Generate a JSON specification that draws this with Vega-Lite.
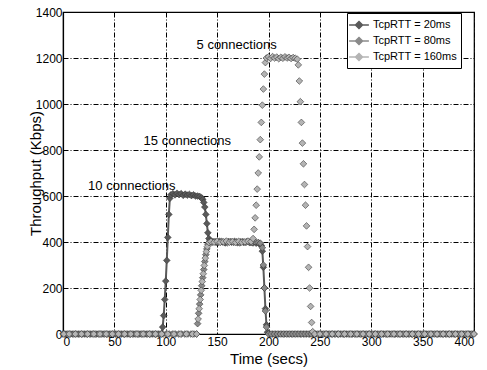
{
  "$schema": "https://vega.github.io/schema/vega-lite/v6.json",
  "width": 411,
  "height": 322,
  "autosize": {"type": "none"},
  "padding": {"left": 63, "top": 12, "right": 13, "bottom": 36},
  "background": "white",
  "config": {
    "font": "Liberation Sans",
    "view": {"stroke": "#000", "strokeWidth": 1.2},
    "axis": {
      "grid": true, "gridColor": "#000", "gridDash": [5, 2, 1, 2], "gridWidth": 1, "gridOpacity": 1,
      "domainColor": "#000", "domainWidth": 1.2, "ticks": false, "format": "d",
      "labelColor": "#000", "titleColor": "#000", "labelFontSize": 12, "titleFontSize": 15,
      "titleFontWeight": "normal", "labelFont": "Liberation Sans", "titleFont": "Liberation Sans"
    },
    "legend": {
      "title": null, "orient": "none", "legendX": 284, "legendY": 1, "direction": "vertical",
      "strokeColor": "#000", "fillColor": "#fff", "padding": 4, "labelFontSize": 11, "labelColor": "#000",
      "symbolType": "M-1.4,0H1.4M0,-0.5L0.5,0L0,0.5L-0.5,0Z", "symbolSize": 200, "symbolStrokeWidth": 1.5,
      "rowPadding": 1, "labelOffset": 6
    }
  },
  "datasets": {
    "d": [
      {"series":"TcpRTT = 20ms","time":0,"kbps":0},{"series":"TcpRTT = 20ms","time":3,"kbps":0},{"series":"TcpRTT = 20ms","time":6,"kbps":0},{"series":"TcpRTT = 20ms","time":9,"kbps":0},{"series":"TcpRTT = 20ms","time":12,"kbps":0},{"series":"TcpRTT = 20ms","time":15,"kbps":0},{"series":"TcpRTT = 20ms","time":18,"kbps":0},{"series":"TcpRTT = 20ms","time":21,"kbps":0},{"series":"TcpRTT = 20ms","time":24,"kbps":0},{"series":"TcpRTT = 20ms","time":27,"kbps":0},{"series":"TcpRTT = 20ms","time":30,"kbps":0},{"series":"TcpRTT = 20ms","time":33,"kbps":0},{"series":"TcpRTT = 20ms","time":36,"kbps":0},{"series":"TcpRTT = 20ms","time":39,"kbps":0},{"series":"TcpRTT = 20ms","time":42,"kbps":0},{"series":"TcpRTT = 20ms","time":45,"kbps":0},{"series":"TcpRTT = 20ms","time":48,"kbps":0},{"series":"TcpRTT = 20ms","time":51,"kbps":0},{"series":"TcpRTT = 20ms","time":54,"kbps":0},{"series":"TcpRTT = 20ms","time":57,"kbps":0},{"series":"TcpRTT = 20ms","time":60,"kbps":0},{"series":"TcpRTT = 20ms","time":63,"kbps":0},{"series":"TcpRTT = 20ms","time":66,"kbps":0},{"series":"TcpRTT = 20ms","time":69,"kbps":0},{"series":"TcpRTT = 20ms","time":72,"kbps":0},{"series":"TcpRTT = 20ms","time":75,"kbps":0},{"series":"TcpRTT = 20ms","time":78,"kbps":0},{"series":"TcpRTT = 20ms","time":81,"kbps":0},{"series":"TcpRTT = 20ms","time":84,"kbps":0},{"series":"TcpRTT = 20ms","time":87,"kbps":0},{"series":"TcpRTT = 20ms","time":90,"kbps":0},{"series":"TcpRTT = 20ms","time":93,"kbps":0},{"series":"TcpRTT = 20ms","time":96,"kbps":0},
      {"series":"TcpRTT = 20ms","time":97,"kbps":30},{"series":"TcpRTT = 20ms","time":98,"kbps":80},{"series":"TcpRTT = 20ms","time":99,"kbps":150},{"series":"TcpRTT = 20ms","time":100,"kbps":230},{"series":"TcpRTT = 20ms","time":101,"kbps":320},{"series":"TcpRTT = 20ms","time":102,"kbps":420},{"series":"TcpRTT = 20ms","time":103,"kbps":520},{"series":"TcpRTT = 20ms","time":104,"kbps":590},{"series":"TcpRTT = 20ms","time":105,"kbps":605},
      {"series":"TcpRTT = 20ms","time":107,"kbps":610},{"series":"TcpRTT = 20ms","time":109,"kbps":605},{"series":"TcpRTT = 20ms","time":111,"kbps":612},{"series":"TcpRTT = 20ms","time":113,"kbps":606},{"series":"TcpRTT = 20ms","time":115,"kbps":610},{"series":"TcpRTT = 20ms","time":117,"kbps":603},{"series":"TcpRTT = 20ms","time":119,"kbps":608},{"series":"TcpRTT = 20ms","time":121,"kbps":604},{"series":"TcpRTT = 20ms","time":123,"kbps":607},{"series":"TcpRTT = 20ms","time":125,"kbps":602},{"series":"TcpRTT = 20ms","time":127,"kbps":605},{"series":"TcpRTT = 20ms","time":129,"kbps":600},{"series":"TcpRTT = 20ms","time":131,"kbps":600},{"series":"TcpRTT = 20ms","time":133,"kbps":598},
      {"series":"TcpRTT = 20ms","time":135,"kbps":592},{"series":"TcpRTT = 20ms","time":136,"kbps":585},{"series":"TcpRTT = 20ms","time":137,"kbps":572},{"series":"TcpRTT = 20ms","time":138,"kbps":552},{"series":"TcpRTT = 20ms","time":139,"kbps":520},{"series":"TcpRTT = 20ms","time":140,"kbps":480},{"series":"TcpRTT = 20ms","time":141,"kbps":440},{"series":"TcpRTT = 20ms","time":142,"kbps":415},{"series":"TcpRTT = 20ms","time":143,"kbps":405},
      {"series":"TcpRTT = 20ms","time":146,"kbps":402},{"series":"TcpRTT = 20ms","time":149,"kbps":398},{"series":"TcpRTT = 20ms","time":152,"kbps":403},{"series":"TcpRTT = 20ms","time":155,"kbps":400},{"series":"TcpRTT = 20ms","time":158,"kbps":396},{"series":"TcpRTT = 20ms","time":161,"kbps":402},{"series":"TcpRTT = 20ms","time":164,"kbps":399},{"series":"TcpRTT = 20ms","time":167,"kbps":403},{"series":"TcpRTT = 20ms","time":170,"kbps":397},{"series":"TcpRTT = 20ms","time":173,"kbps":401},{"series":"TcpRTT = 20ms","time":176,"kbps":398},{"series":"TcpRTT = 20ms","time":179,"kbps":402},{"series":"TcpRTT = 20ms","time":182,"kbps":397},{"series":"TcpRTT = 20ms","time":185,"kbps":396},{"series":"TcpRTT = 20ms","time":188,"kbps":395},{"series":"TcpRTT = 20ms","time":191,"kbps":393},{"series":"TcpRTT = 20ms","time":193,"kbps":385},
      {"series":"TcpRTT = 20ms","time":194,"kbps":360},{"series":"TcpRTT = 20ms","time":195,"kbps":290},{"series":"TcpRTT = 20ms","time":196,"kbps":200},{"series":"TcpRTT = 20ms","time":197,"kbps":110},{"series":"TcpRTT = 20ms","time":198,"kbps":40},{"series":"TcpRTT = 20ms","time":199,"kbps":8},
      {"series":"TcpRTT = 20ms","time":201,"kbps":0},{"series":"TcpRTT = 20ms","time":204,"kbps":0},{"series":"TcpRTT = 20ms","time":207,"kbps":0},{"series":"TcpRTT = 20ms","time":210,"kbps":0},{"series":"TcpRTT = 20ms","time":213,"kbps":0},{"series":"TcpRTT = 20ms","time":216,"kbps":0},{"series":"TcpRTT = 20ms","time":219,"kbps":0},{"series":"TcpRTT = 20ms","time":222,"kbps":0},{"series":"TcpRTT = 20ms","time":225,"kbps":0},{"series":"TcpRTT = 20ms","time":228,"kbps":0},{"series":"TcpRTT = 20ms","time":231,"kbps":0},{"series":"TcpRTT = 20ms","time":234,"kbps":0},{"series":"TcpRTT = 20ms","time":237,"kbps":0},{"series":"TcpRTT = 20ms","time":240,"kbps":0},{"series":"TcpRTT = 20ms","time":243,"kbps":0},{"series":"TcpRTT = 20ms","time":246,"kbps":0},{"series":"TcpRTT = 20ms","time":249,"kbps":0},{"series":"TcpRTT = 20ms","time":252,"kbps":0},{"series":"TcpRTT = 20ms","time":255,"kbps":0},{"series":"TcpRTT = 20ms","time":258,"kbps":0},{"series":"TcpRTT = 20ms","time":261,"kbps":0},{"series":"TcpRTT = 20ms","time":264,"kbps":0},{"series":"TcpRTT = 20ms","time":267,"kbps":0},{"series":"TcpRTT = 20ms","time":270,"kbps":0},{"series":"TcpRTT = 20ms","time":273,"kbps":0},{"series":"TcpRTT = 20ms","time":276,"kbps":0},{"series":"TcpRTT = 20ms","time":279,"kbps":0},{"series":"TcpRTT = 20ms","time":282,"kbps":0},{"series":"TcpRTT = 20ms","time":285,"kbps":0},{"series":"TcpRTT = 20ms","time":288,"kbps":0},{"series":"TcpRTT = 20ms","time":291,"kbps":0},{"series":"TcpRTT = 20ms","time":294,"kbps":0},{"series":"TcpRTT = 20ms","time":297,"kbps":0},{"series":"TcpRTT = 20ms","time":300,"kbps":0},{"series":"TcpRTT = 20ms","time":303,"kbps":0},{"series":"TcpRTT = 20ms","time":306,"kbps":0},{"series":"TcpRTT = 20ms","time":309,"kbps":0},{"series":"TcpRTT = 20ms","time":312,"kbps":0},{"series":"TcpRTT = 20ms","time":315,"kbps":0},{"series":"TcpRTT = 20ms","time":318,"kbps":0},{"series":"TcpRTT = 20ms","time":321,"kbps":0},{"series":"TcpRTT = 20ms","time":324,"kbps":0},{"series":"TcpRTT = 20ms","time":327,"kbps":0},{"series":"TcpRTT = 20ms","time":330,"kbps":0},{"series":"TcpRTT = 20ms","time":333,"kbps":0},{"series":"TcpRTT = 20ms","time":336,"kbps":0},{"series":"TcpRTT = 20ms","time":339,"kbps":0},{"series":"TcpRTT = 20ms","time":342,"kbps":0},{"series":"TcpRTT = 20ms","time":345,"kbps":0},{"series":"TcpRTT = 20ms","time":348,"kbps":0},{"series":"TcpRTT = 20ms","time":351,"kbps":0},{"series":"TcpRTT = 20ms","time":354,"kbps":0},{"series":"TcpRTT = 20ms","time":357,"kbps":0},{"series":"TcpRTT = 20ms","time":360,"kbps":0},{"series":"TcpRTT = 20ms","time":363,"kbps":0},{"series":"TcpRTT = 20ms","time":366,"kbps":0},{"series":"TcpRTT = 20ms","time":369,"kbps":0},{"series":"TcpRTT = 20ms","time":372,"kbps":0},{"series":"TcpRTT = 20ms","time":375,"kbps":0},{"series":"TcpRTT = 20ms","time":378,"kbps":0},{"series":"TcpRTT = 20ms","time":381,"kbps":0},{"series":"TcpRTT = 20ms","time":384,"kbps":0},{"series":"TcpRTT = 20ms","time":387,"kbps":0},{"series":"TcpRTT = 20ms","time":390,"kbps":0},{"series":"TcpRTT = 20ms","time":393,"kbps":0},{"series":"TcpRTT = 20ms","time":396,"kbps":0},{"series":"TcpRTT = 20ms","time":399,"kbps":0},

      {"series":"TcpRTT = 80ms","time":1.5,"kbps":0},{"series":"TcpRTT = 80ms","time":4.5,"kbps":0},{"series":"TcpRTT = 80ms","time":7.5,"kbps":0},{"series":"TcpRTT = 80ms","time":10.5,"kbps":0},{"series":"TcpRTT = 80ms","time":13.5,"kbps":0},{"series":"TcpRTT = 80ms","time":16.5,"kbps":0},{"series":"TcpRTT = 80ms","time":19.5,"kbps":0},{"series":"TcpRTT = 80ms","time":22.5,"kbps":0},{"series":"TcpRTT = 80ms","time":25.5,"kbps":0},{"series":"TcpRTT = 80ms","time":28.5,"kbps":0},{"series":"TcpRTT = 80ms","time":31.5,"kbps":0},{"series":"TcpRTT = 80ms","time":34.5,"kbps":0},{"series":"TcpRTT = 80ms","time":37.5,"kbps":0},{"series":"TcpRTT = 80ms","time":40.5,"kbps":0},{"series":"TcpRTT = 80ms","time":43.5,"kbps":0},{"series":"TcpRTT = 80ms","time":46.5,"kbps":0},{"series":"TcpRTT = 80ms","time":49.5,"kbps":0},{"series":"TcpRTT = 80ms","time":52.5,"kbps":0},{"series":"TcpRTT = 80ms","time":55.5,"kbps":0},{"series":"TcpRTT = 80ms","time":58.5,"kbps":0},{"series":"TcpRTT = 80ms","time":61.5,"kbps":0},{"series":"TcpRTT = 80ms","time":64.5,"kbps":0},{"series":"TcpRTT = 80ms","time":67.5,"kbps":0},{"series":"TcpRTT = 80ms","time":70.5,"kbps":0},{"series":"TcpRTT = 80ms","time":73.5,"kbps":0},{"series":"TcpRTT = 80ms","time":76.5,"kbps":0},{"series":"TcpRTT = 80ms","time":79.5,"kbps":0},{"series":"TcpRTT = 80ms","time":82.5,"kbps":0},{"series":"TcpRTT = 80ms","time":85.5,"kbps":0},{"series":"TcpRTT = 80ms","time":88.5,"kbps":0},{"series":"TcpRTT = 80ms","time":91.5,"kbps":0},{"series":"TcpRTT = 80ms","time":94.5,"kbps":0},{"series":"TcpRTT = 80ms","time":97.5,"kbps":0},{"series":"TcpRTT = 80ms","time":100.5,"kbps":0},{"series":"TcpRTT = 80ms","time":103.5,"kbps":0},{"series":"TcpRTT = 80ms","time":106.5,"kbps":0},{"series":"TcpRTT = 80ms","time":109.5,"kbps":0},{"series":"TcpRTT = 80ms","time":112.5,"kbps":0},{"series":"TcpRTT = 80ms","time":115.5,"kbps":0},{"series":"TcpRTT = 80ms","time":118.5,"kbps":0},{"series":"TcpRTT = 80ms","time":121.5,"kbps":0},{"series":"TcpRTT = 80ms","time":124.5,"kbps":0},{"series":"TcpRTT = 80ms","time":127.5,"kbps":0},{"series":"TcpRTT = 80ms","time":130,"kbps":0},
      {"series":"TcpRTT = 80ms","time":131,"kbps":45},{"series":"TcpRTT = 80ms","time":132,"kbps":90},{"series":"TcpRTT = 80ms","time":133,"kbps":130},{"series":"TcpRTT = 80ms","time":134,"kbps":170},{"series":"TcpRTT = 80ms","time":135,"kbps":210},{"series":"TcpRTT = 80ms","time":136,"kbps":245},{"series":"TcpRTT = 80ms","time":137,"kbps":280},{"series":"TcpRTT = 80ms","time":138,"kbps":315},{"series":"TcpRTT = 80ms","time":139,"kbps":345},{"series":"TcpRTT = 80ms","time":140,"kbps":370},{"series":"TcpRTT = 80ms","time":141,"kbps":390},{"series":"TcpRTT = 80ms","time":143,"kbps":400},
      {"series":"TcpRTT = 80ms","time":145,"kbps":398},{"series":"TcpRTT = 80ms","time":148,"kbps":402},{"series":"TcpRTT = 80ms","time":151,"kbps":398},{"series":"TcpRTT = 80ms","time":154,"kbps":403},{"series":"TcpRTT = 80ms","time":157,"kbps":399},{"series":"TcpRTT = 80ms","time":160,"kbps":397},{"series":"TcpRTT = 80ms","time":163,"kbps":402},{"series":"TcpRTT = 80ms","time":166,"kbps":398},{"series":"TcpRTT = 80ms","time":169,"kbps":401},{"series":"TcpRTT = 80ms","time":172,"kbps":396},{"series":"TcpRTT = 80ms","time":175,"kbps":402},{"series":"TcpRTT = 80ms","time":178,"kbps":398},{"series":"TcpRTT = 80ms","time":181,"kbps":400},{"series":"TcpRTT = 80ms","time":184,"kbps":397},{"series":"TcpRTT = 80ms","time":187,"kbps":401},{"series":"TcpRTT = 80ms","time":190,"kbps":398},{"series":"TcpRTT = 80ms","time":192,"kbps":395},
      {"series":"TcpRTT = 80ms","time":194,"kbps":375},{"series":"TcpRTT = 80ms","time":195,"kbps":300},{"series":"TcpRTT = 80ms","time":196,"kbps":200},{"series":"TcpRTT = 80ms","time":197,"kbps":100},{"series":"TcpRTT = 80ms","time":198,"kbps":30},{"series":"TcpRTT = 80ms","time":200,"kbps":0},
      {"series":"TcpRTT = 80ms","time":202.5,"kbps":0},{"series":"TcpRTT = 80ms","time":205.5,"kbps":0},{"series":"TcpRTT = 80ms","time":208.5,"kbps":0},{"series":"TcpRTT = 80ms","time":211.5,"kbps":0},{"series":"TcpRTT = 80ms","time":214.5,"kbps":0},{"series":"TcpRTT = 80ms","time":217.5,"kbps":0},{"series":"TcpRTT = 80ms","time":220.5,"kbps":0},{"series":"TcpRTT = 80ms","time":223.5,"kbps":0},{"series":"TcpRTT = 80ms","time":226.5,"kbps":0},{"series":"TcpRTT = 80ms","time":229.5,"kbps":0},{"series":"TcpRTT = 80ms","time":232.5,"kbps":0},{"series":"TcpRTT = 80ms","time":235.5,"kbps":0},{"series":"TcpRTT = 80ms","time":238.5,"kbps":0},{"series":"TcpRTT = 80ms","time":241.5,"kbps":0},{"series":"TcpRTT = 80ms","time":244.5,"kbps":0},{"series":"TcpRTT = 80ms","time":247.5,"kbps":0},{"series":"TcpRTT = 80ms","time":250.5,"kbps":0},{"series":"TcpRTT = 80ms","time":253.5,"kbps":0},{"series":"TcpRTT = 80ms","time":256.5,"kbps":0},{"series":"TcpRTT = 80ms","time":259.5,"kbps":0},{"series":"TcpRTT = 80ms","time":262.5,"kbps":0},{"series":"TcpRTT = 80ms","time":265.5,"kbps":0},{"series":"TcpRTT = 80ms","time":268.5,"kbps":0},{"series":"TcpRTT = 80ms","time":271.5,"kbps":0},{"series":"TcpRTT = 80ms","time":274.5,"kbps":0},{"series":"TcpRTT = 80ms","time":277.5,"kbps":0},{"series":"TcpRTT = 80ms","time":280.5,"kbps":0},{"series":"TcpRTT = 80ms","time":283.5,"kbps":0},{"series":"TcpRTT = 80ms","time":286.5,"kbps":0},{"series":"TcpRTT = 80ms","time":289.5,"kbps":0},{"series":"TcpRTT = 80ms","time":292.5,"kbps":0},{"series":"TcpRTT = 80ms","time":295.5,"kbps":0},{"series":"TcpRTT = 80ms","time":298.5,"kbps":0},{"series":"TcpRTT = 80ms","time":301.5,"kbps":0},{"series":"TcpRTT = 80ms","time":304.5,"kbps":0},{"series":"TcpRTT = 80ms","time":307.5,"kbps":0},{"series":"TcpRTT = 80ms","time":310.5,"kbps":0},{"series":"TcpRTT = 80ms","time":313.5,"kbps":0},{"series":"TcpRTT = 80ms","time":316.5,"kbps":0},{"series":"TcpRTT = 80ms","time":319.5,"kbps":0},{"series":"TcpRTT = 80ms","time":322.5,"kbps":0},{"series":"TcpRTT = 80ms","time":325.5,"kbps":0},{"series":"TcpRTT = 80ms","time":328.5,"kbps":0},{"series":"TcpRTT = 80ms","time":331.5,"kbps":0},{"series":"TcpRTT = 80ms","time":334.5,"kbps":0},{"series":"TcpRTT = 80ms","time":337.5,"kbps":0},{"series":"TcpRTT = 80ms","time":340.5,"kbps":0},{"series":"TcpRTT = 80ms","time":343.5,"kbps":0},{"series":"TcpRTT = 80ms","time":346.5,"kbps":0},{"series":"TcpRTT = 80ms","time":349.5,"kbps":0},{"series":"TcpRTT = 80ms","time":352.5,"kbps":0},{"series":"TcpRTT = 80ms","time":355.5,"kbps":0},{"series":"TcpRTT = 80ms","time":358.5,"kbps":0},{"series":"TcpRTT = 80ms","time":361.5,"kbps":0},{"series":"TcpRTT = 80ms","time":364.5,"kbps":0},{"series":"TcpRTT = 80ms","time":367.5,"kbps":0},{"series":"TcpRTT = 80ms","time":370.5,"kbps":0},{"series":"TcpRTT = 80ms","time":373.5,"kbps":0},{"series":"TcpRTT = 80ms","time":376.5,"kbps":0},{"series":"TcpRTT = 80ms","time":379.5,"kbps":0},{"series":"TcpRTT = 80ms","time":382.5,"kbps":0},{"series":"TcpRTT = 80ms","time":385.5,"kbps":0},{"series":"TcpRTT = 80ms","time":388.5,"kbps":0},{"series":"TcpRTT = 80ms","time":391.5,"kbps":0},{"series":"TcpRTT = 80ms","time":394.5,"kbps":0},{"series":"TcpRTT = 80ms","time":397.5,"kbps":0},{"series":"TcpRTT = 80ms","time":400,"kbps":0},

      {"series":"TcpRTT = 160ms","time":0.8,"kbps":0},{"series":"TcpRTT = 160ms","time":6,"kbps":0},{"series":"TcpRTT = 160ms","time":12,"kbps":0},{"series":"TcpRTT = 160ms","time":18,"kbps":0},{"series":"TcpRTT = 160ms","time":24,"kbps":0},{"series":"TcpRTT = 160ms","time":30,"kbps":0},{"series":"TcpRTT = 160ms","time":36,"kbps":0},{"series":"TcpRTT = 160ms","time":42,"kbps":0},{"series":"TcpRTT = 160ms","time":48,"kbps":0},{"series":"TcpRTT = 160ms","time":54,"kbps":0},{"series":"TcpRTT = 160ms","time":60,"kbps":0},{"series":"TcpRTT = 160ms","time":66,"kbps":0},{"series":"TcpRTT = 160ms","time":72,"kbps":0},{"series":"TcpRTT = 160ms","time":78,"kbps":0},{"series":"TcpRTT = 160ms","time":84,"kbps":0},{"series":"TcpRTT = 160ms","time":90,"kbps":0},{"series":"TcpRTT = 160ms","time":96,"kbps":0},{"series":"TcpRTT = 160ms","time":102,"kbps":0},{"series":"TcpRTT = 160ms","time":108,"kbps":0},{"series":"TcpRTT = 160ms","time":114,"kbps":0},{"series":"TcpRTT = 160ms","time":120,"kbps":0},{"series":"TcpRTT = 160ms","time":126,"kbps":0},{"series":"TcpRTT = 160ms","time":130,"kbps":0},
      {"series":"TcpRTT = 160ms","time":131.5,"kbps":65},{"series":"TcpRTT = 160ms","time":132.5,"kbps":110},{"series":"TcpRTT = 160ms","time":133.5,"kbps":150},{"series":"TcpRTT = 160ms","time":134.5,"kbps":190},{"series":"TcpRTT = 160ms","time":135.5,"kbps":228},{"series":"TcpRTT = 160ms","time":136.5,"kbps":262},{"series":"TcpRTT = 160ms","time":137.5,"kbps":298},{"series":"TcpRTT = 160ms","time":138.5,"kbps":330},{"series":"TcpRTT = 160ms","time":139.5,"kbps":358},{"series":"TcpRTT = 160ms","time":140.5,"kbps":380},{"series":"TcpRTT = 160ms","time":142,"kbps":398},
      {"series":"TcpRTT = 160ms","time":144,"kbps":402},{"series":"TcpRTT = 160ms","time":147,"kbps":399},{"series":"TcpRTT = 160ms","time":150,"kbps":403},{"series":"TcpRTT = 160ms","time":153,"kbps":398},{"series":"TcpRTT = 160ms","time":156,"kbps":401},{"series":"TcpRTT = 160ms","time":159,"kbps":404},{"series":"TcpRTT = 160ms","time":162,"kbps":399},{"series":"TcpRTT = 160ms","time":165,"kbps":402},{"series":"TcpRTT = 160ms","time":168,"kbps":398},{"series":"TcpRTT = 160ms","time":171,"kbps":403},{"series":"TcpRTT = 160ms","time":174,"kbps":399},{"series":"TcpRTT = 160ms","time":177,"kbps":401},{"series":"TcpRTT = 160ms","time":180,"kbps":404},{"series":"TcpRTT = 160ms","time":183,"kbps":402},{"series":"TcpRTT = 160ms","time":185,"kbps":415},
      {"series":"TcpRTT = 160ms","time":186,"kbps":455},{"series":"TcpRTT = 160ms","time":187,"kbps":505},{"series":"TcpRTT = 160ms","time":188,"kbps":560},{"series":"TcpRTT = 160ms","time":189,"kbps":630},{"series":"TcpRTT = 160ms","time":190,"kbps":700},{"series":"TcpRTT = 160ms","time":191,"kbps":770},{"series":"TcpRTT = 160ms","time":192,"kbps":845},{"series":"TcpRTT = 160ms","time":193,"kbps":920},{"series":"TcpRTT = 160ms","time":194,"kbps":995},{"series":"TcpRTT = 160ms","time":195,"kbps":1065},{"series":"TcpRTT = 160ms","time":196,"kbps":1130},{"series":"TcpRTT = 160ms","time":197,"kbps":1180},{"series":"TcpRTT = 160ms","time":198,"kbps":1200},
      {"series":"TcpRTT = 160ms","time":200,"kbps":1205},{"series":"TcpRTT = 160ms","time":202,"kbps":1198},{"series":"TcpRTT = 160ms","time":204,"kbps":1206},{"series":"TcpRTT = 160ms","time":206,"kbps":1200},{"series":"TcpRTT = 160ms","time":208,"kbps":1204},{"series":"TcpRTT = 160ms","time":210,"kbps":1197},{"series":"TcpRTT = 160ms","time":212,"kbps":1203},{"series":"TcpRTT = 160ms","time":214,"kbps":1199},{"series":"TcpRTT = 160ms","time":216,"kbps":1205},{"series":"TcpRTT = 160ms","time":218,"kbps":1200},{"series":"TcpRTT = 160ms","time":220,"kbps":1203},{"series":"TcpRTT = 160ms","time":222,"kbps":1198},{"series":"TcpRTT = 160ms","time":224,"kbps":1202},{"series":"TcpRTT = 160ms","time":226,"kbps":1199},{"series":"TcpRTT = 160ms","time":228,"kbps":1195},
      {"series":"TcpRTT = 160ms","time":229,"kbps":1170},{"series":"TcpRTT = 160ms","time":230,"kbps":1100},{"series":"TcpRTT = 160ms","time":231,"kbps":1010},{"series":"TcpRTT = 160ms","time":232,"kbps":920},{"series":"TcpRTT = 160ms","time":233,"kbps":830},{"series":"TcpRTT = 160ms","time":234,"kbps":740},{"series":"TcpRTT = 160ms","time":235,"kbps":650},{"series":"TcpRTT = 160ms","time":236,"kbps":560},{"series":"TcpRTT = 160ms","time":237,"kbps":470},{"series":"TcpRTT = 160ms","time":238,"kbps":380},{"series":"TcpRTT = 160ms","time":239,"kbps":290},{"series":"TcpRTT = 160ms","time":240,"kbps":200},{"series":"TcpRTT = 160ms","time":241,"kbps":120},{"series":"TcpRTT = 160ms","time":242,"kbps":50},{"series":"TcpRTT = 160ms","time":243,"kbps":10},{"series":"TcpRTT = 160ms","time":245,"kbps":0},
      {"series":"TcpRTT = 160ms","time":250,"kbps":0},{"series":"TcpRTT = 160ms","time":256,"kbps":0},{"series":"TcpRTT = 160ms","time":262,"kbps":0},{"series":"TcpRTT = 160ms","time":268,"kbps":0},{"series":"TcpRTT = 160ms","time":274,"kbps":0},{"series":"TcpRTT = 160ms","time":280,"kbps":0},{"series":"TcpRTT = 160ms","time":286,"kbps":0},{"series":"TcpRTT = 160ms","time":292,"kbps":0},{"series":"TcpRTT = 160ms","time":298,"kbps":0},{"series":"TcpRTT = 160ms","time":304,"kbps":0},{"series":"TcpRTT = 160ms","time":310,"kbps":0},{"series":"TcpRTT = 160ms","time":316,"kbps":0},{"series":"TcpRTT = 160ms","time":322,"kbps":0},{"series":"TcpRTT = 160ms","time":328,"kbps":0},{"series":"TcpRTT = 160ms","time":334,"kbps":0},{"series":"TcpRTT = 160ms","time":340,"kbps":0},{"series":"TcpRTT = 160ms","time":346,"kbps":0},{"series":"TcpRTT = 160ms","time":352,"kbps":0},{"series":"TcpRTT = 160ms","time":358,"kbps":0},{"series":"TcpRTT = 160ms","time":364,"kbps":0},{"series":"TcpRTT = 160ms","time":370,"kbps":0},{"series":"TcpRTT = 160ms","time":376,"kbps":0},{"series":"TcpRTT = 160ms","time":382,"kbps":0},{"series":"TcpRTT = 160ms","time":388,"kbps":0},{"series":"TcpRTT = 160ms","time":394,"kbps":0},{"series":"TcpRTT = 160ms","time":400,"kbps":0}
    ],
    "ann": [
      {"label": "5 connections", "time": 169, "kbps": 1256},
      {"label": "15 connections", "time": 121, "kbps": 839},
      {"label": "10 connections", "time": 67, "kbps": 643}
    ]
  },
  "layer": [
    {
      "data": {"name": "d"},
      "transform": [{"filter": "datum.series == 'TcpRTT = 20ms'"}],
      "mark": {"type": "line", "strokeWidth": 2, "clip": false},
      "encoding": {
        "x": {"field": "time", "type": "quantitative", "scale": {"domain": [0, 400], "nice": false},
              "axis": {"values": [0, 50, 100, 150, 200, 250, 300, 350, 400], "title": "Time (secs)", "labelPadding": 2, "titleY": 24, "titleBaseline": "middle"}},
        "y": {"field": "kbps", "type": "quantitative", "scale": {"domain": [0, 1400], "nice": false},
              "axis": {"values": [0, 200, 400, 600, 800, 1000, 1200, 1400], "title": "Throughput (Kbps)", "labelPadding": 1, "titleX": -28, "titleY": 161, "titleBaseline": "middle"}},
        "color": {"field": "series", "type": "nominal",
                  "scale": {"domain": ["TcpRTT = 20ms", "TcpRTT = 80ms", "TcpRTT = 160ms"], "range": ["#5a5a5a", "#8a8a8a", "#b4b4b4"]}}
      }
    },
    {
      "data": {"name": "d"},
      "mark": {"type": "point", "shape": "diamond", "filled": true, "size": 45, "opacity": 1, "stroke": "#3a3a3a", "strokeWidth": 0.6, "clip": false},
      "encoding": {
        "x": {"field": "time", "type": "quantitative"},
        "y": {"field": "kbps", "type": "quantitative"},
        "color": {"field": "series", "type": "nominal"}
      }
    },
    {
      "data": {"name": "ann"},
      "mark": {"type": "text", "fontSize": 13, "align": "center", "baseline": "middle", "color": "#000", "font": "Liberation Sans"},
      "encoding": {
        "x": {"field": "time", "type": "quantitative"},
        "y": {"field": "kbps", "type": "quantitative"},
        "text": {"field": "label"}
      }
    }
  ]
}
